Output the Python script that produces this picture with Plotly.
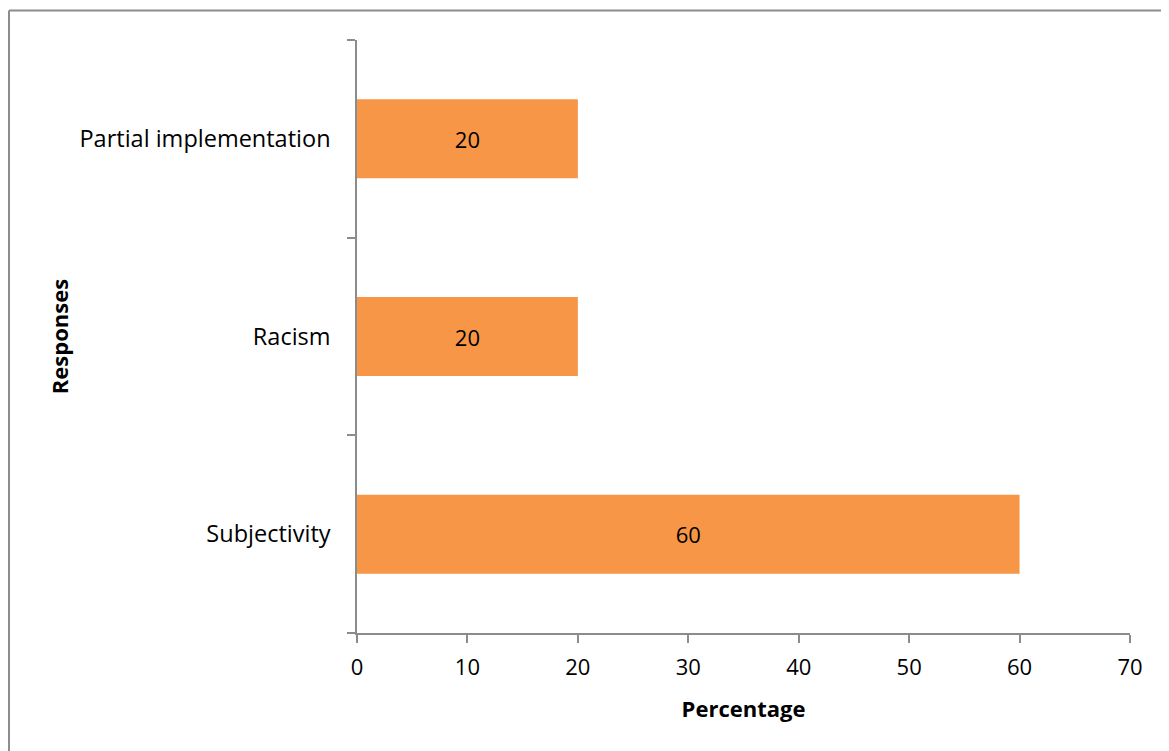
import plotly.graph_objects as go

categories = ["Subjectivity", "Racism", "Partial implementation"]
values = [60, 20, 20]
x_ticks = [0, 10, 20, 30, 40, 50, 60, 70]

FONT = "Open Sans"
AXIS_COLOR = "#8c8c8c"
SIZE = 22

L, T = 349, 32
PW, PH = 773, 593
W, H = 1169, 751

fig = go.Figure(
    go.Bar(
        y=categories,
        x=values,
        orientation="h",
        width=0.4,
        marker=dict(color="#F79646", line=dict(width=0)),
        text=[str(v) for v in values],
        textposition="inside",
        insidetextanchor="middle",
        textfont=dict(family=FONT, size=SIZE, color="black"),
    )
)

border_y = 1 + (T - 2.5) / PH
border_x = (1 - L) / PW

fig.update_layout(
    width=W,
    height=H,
    margin=dict(l=L, r=W - L - PW, t=T, b=H - T - PH),
    paper_bgcolor="white",
    plot_bgcolor="white",
    showlegend=False,
    font=dict(family=FONT, size=SIZE, color="black"),
    xaxis=dict(
        range=[0, 70],
        tickvals=x_ticks,
        ticks="outside",
        ticklen=8,
        tickcolor=AXIS_COLOR,
        tickwidth=1.5,
        showline=True,
        linecolor=AXIS_COLOR,
        linewidth=1.5,
        showgrid=False,
        zeroline=False,
        ticklabelstandoff=6,
        tickfont=dict(family=FONT, size=SIZE),
        title=dict(text="<b>Percentage</b>", font=dict(family=FONT, size=SIZE), standoff=21),
    ),
    yaxis=dict(
        type="category",
        categoryorder="array",
        categoryarray=categories,
        range=[-0.5, 2.5],
        tickson="boundaries",
        ticks="outside",
        ticklen=8,
        tickcolor=AXIS_COLOR,
        tickwidth=1.5,
        showline=True,
        linecolor=AXIS_COLOR,
        linewidth=1.5,
        showgrid=False,
        zeroline=False,
        ticklabelstandoff=20,
        tickfont=dict(family=FONT, size=23.5),
        title=dict(text="<b>Responses</b>", font=dict(family=FONT, size=SIZE), standoff=5),
    ),
    shapes=[
        dict(type="line", xref="paper", yref="paper",
             x0=border_x, x1=(W + 10 - L) / PW,
             y0=border_y, y1=border_y,
             line=dict(color="#8c8c8c", width=2)),
        dict(type="line", xref="paper", yref="paper",
             x0=border_x, x1=border_x,
             y0=border_y, y1=-0.3,
             line=dict(color="#8c8c8c", width=2)),
    ],
)

fig.write_html("out.html")
